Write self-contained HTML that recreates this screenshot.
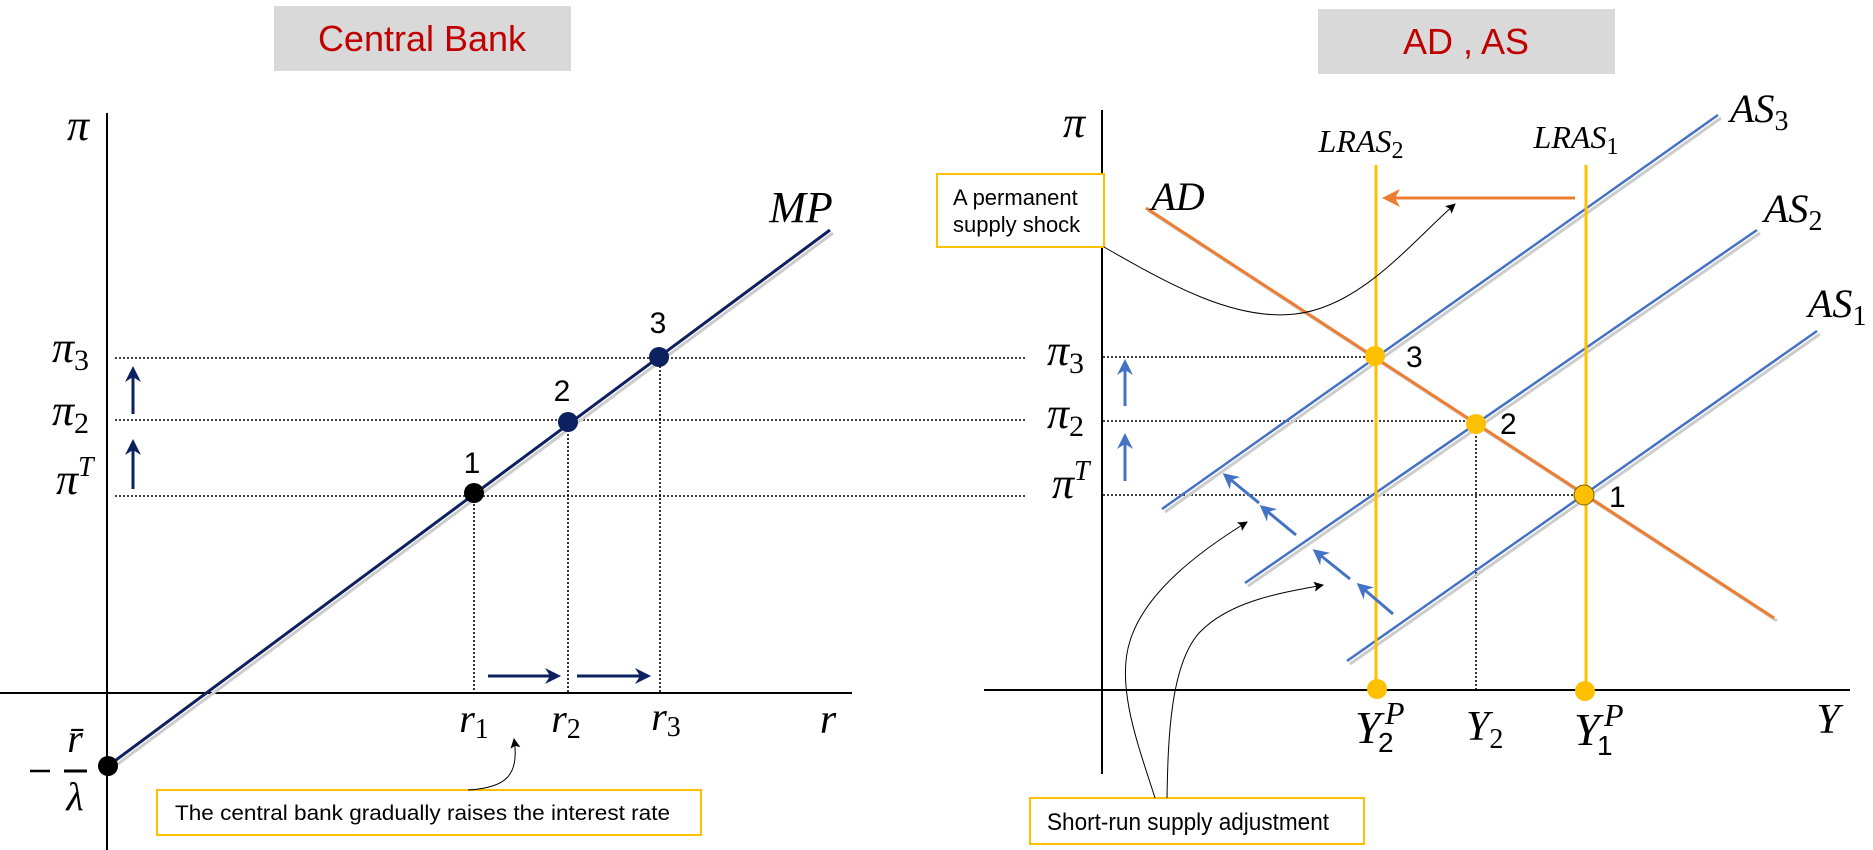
<!DOCTYPE html>
<html><head><meta charset="utf-8"><style>
html,body{margin:0;padding:0;background:#fff;overflow:hidden}
svg{display:block}
.m{font-family:"Liberation Serif",serif;font-style:italic;fill:#000}
.s{font-family:"Liberation Sans",sans-serif;fill:#000}
</style></head><body>
<svg width="1873" height="850" viewBox="0 0 1873 850" xmlns="http://www.w3.org/2000/svg">
<defs>
<marker id="ab" markerWidth="16" markerHeight="16" refX="13" refY="8" orient="auto" markerUnits="userSpaceOnUse"><path d="M0,0 L16,8 L0,16 L5,8 z" fill="#4472c4"/></marker>
<marker id="anv" markerWidth="16" markerHeight="16" refX="13" refY="8" orient="auto" markerUnits="userSpaceOnUse"><path d="M0,0 L16,8 L0,16 L5,8 z" fill="#0d2060"/></marker>
<marker id="ao" markerWidth="18" markerHeight="18" refX="14" refY="9" orient="auto" markerUnits="userSpaceOnUse"><path d="M0,0 L18,9 L0,18 L5,9 z" fill="#ed7d31"/></marker>
<marker id="ak" markerWidth="10" markerHeight="10" refX="9" refY="5" orient="auto" markerUnits="userSpaceOnUse"><path d="M0,0 L10,5 L0,10 L2,5 z" fill="#000"/></marker>
</defs>

<!-- Titles -->
<rect x="274" y="6" width="297" height="65" fill="#d9d9d9"/>
<text x="422" y="51" text-anchor="middle" font-family="Liberation Sans,sans-serif" font-size="36" fill="#c00000">Central Bank</text>
<rect x="1318" y="9" width="297" height="65" fill="#d9d9d9"/>
<text x="1466" y="54" text-anchor="middle" font-family="Liberation Sans,sans-serif" font-size="36" fill="#c00000">AD , AS</text>

<!-- LEFT PANEL -->
<line x1="107" y1="113" x2="107" y2="850" stroke="#000" stroke-width="2"/>
<line x1="0" y1="693" x2="852" y2="693" stroke="#000" stroke-width="2"/>
<g stroke="#000" stroke-width="1.6" stroke-dasharray="2,2" fill="none">
<line x1="115" y1="358" x2="1025" y2="358"/>
<line x1="115" y1="420" x2="1025" y2="420"/>
<line x1="115" y1="496" x2="1025" y2="496"/>
<line x1="474" y1="496" x2="474" y2="693"/>
<line x1="568" y1="422" x2="568" y2="693"/>
<line x1="660" y1="358" x2="660" y2="693"/>
</g>
<line x1="111" y1="769" x2="833" y2="233" stroke="#ccc" stroke-width="3"/>
<line x1="108" y1="766" x2="830" y2="230" stroke="#0d2060" stroke-width="3"/>
<circle cx="108" cy="766" r="10" fill="#000"/>
<circle cx="474" cy="493" r="10" fill="#000"/>
<circle cx="568" cy="422" r="10" fill="#0d2060"/>
<circle cx="659" cy="357" r="10" fill="#0d2060"/>
<text x="472" y="473" class="s" font-size="30" text-anchor="middle">1</text>
<text x="562" y="401" class="s" font-size="30" text-anchor="middle">2</text>
<text x="658" y="333" class="s" font-size="30" text-anchor="middle">3</text>
<line x1="133" y1="414" x2="133" y2="369" stroke="#0d2060" stroke-width="3" marker-end="url(#anv)"/>
<line x1="133" y1="489" x2="133" y2="442" stroke="#0d2060" stroke-width="3" marker-end="url(#anv)"/>
<line x1="488" y1="676" x2="558" y2="676" stroke="#0d2060" stroke-width="3" marker-end="url(#anv)"/>
<line x1="577" y1="676" x2="648" y2="676" stroke="#0d2060" stroke-width="3" marker-end="url(#anv)"/>
<text x="78" y="140" class="m" font-size="44" text-anchor="middle">π</text>
<text x="52" y="362" class="m" font-size="44">π<tspan font-style="normal" font-size="30" dy="8">3</tspan></text>
<text x="52" y="425" class="m" font-size="44">π<tspan font-style="normal" font-size="30" dy="8">2</tspan></text>
<text x="56" y="494" class="m" font-size="44">π<tspan font-size="28" dy="-18">T</tspan></text>
<text x="75" y="752" class="m" font-size="40" text-anchor="middle">r̄</text>
<line x1="30" y1="771" x2="50" y2="771" stroke="#000" stroke-width="2.5"/>
<line x1="64" y1="771" x2="87" y2="771" stroke="#000" stroke-width="3"/>
<text x="75" y="810" class="m" font-size="40" text-anchor="middle">λ</text>
<text x="474" y="732" class="m" font-size="40" text-anchor="middle">r<tspan font-style="normal" font-size="28" dy="6">1</tspan></text>
<text x="566" y="732" class="m" font-size="40" text-anchor="middle">r<tspan font-style="normal" font-size="28" dy="6">2</tspan></text>
<text x="666" y="730" class="m" font-size="40" text-anchor="middle">r<tspan font-style="normal" font-size="28" dy="6">3</tspan></text>
<text x="828" y="733" class="m" font-size="42" text-anchor="middle">r</text>
<text x="801" y="222" class="m" font-size="44" text-anchor="middle">MP</text>
<rect x="157" y="790" width="544" height="45" fill="#fff" stroke="#ffc000" stroke-width="2"/>
<text x="175" y="820" class="s" font-size="21" textLength="495" lengthAdjust="spacingAndGlyphs">The central bank gradually raises the interest rate</text>
<path d="M468,790 C505,788 520,776 514,739" fill="none" stroke="#000" stroke-width="1" marker-end="url(#ak)"/>

<!-- RIGHT PANEL -->
<line x1="1102" y1="110" x2="1102" y2="774" stroke="#000" stroke-width="2"/>
<line x1="984" y1="690" x2="1850" y2="690" stroke="#000" stroke-width="2"/>
<g stroke="#000" stroke-width="1.6" stroke-dasharray="2,2" fill="none">
<line x1="1103" y1="357" x2="1375" y2="357"/>
<line x1="1103" y1="421" x2="1476" y2="421"/>
<line x1="1103" y1="495" x2="1584" y2="495"/>
<line x1="1476" y1="424" x2="1476" y2="690"/>
</g>
<g stroke="#ccc" stroke-width="3">
<line x1="1165" y1="512" x2="1721" y2="118"/>
<line x1="1248" y1="586" x2="1760" y2="233"/>
<line x1="1350" y1="664" x2="1820" y2="334"/>
<line x1="1149" y1="211" x2="1777" y2="621"/>
</g>
<g stroke="#4472c4" stroke-width="2.5">
<line x1="1162" y1="509" x2="1718" y2="115"/>
<line x1="1245" y1="583" x2="1757" y2="230"/>
<line x1="1347" y1="661" x2="1817" y2="331"/>
</g>
<line x1="1146" y1="208" x2="1774" y2="618" stroke="#ed7d31" stroke-width="3"/>
<line x1="1376" y1="165" x2="1376" y2="688" stroke="#ffc000" stroke-width="3"/>
<line x1="1586" y1="165" x2="1586" y2="688" stroke="#ffc000" stroke-width="3"/>
<line x1="1575" y1="198" x2="1386" y2="198" stroke="#ed7d31" stroke-width="3" marker-end="url(#ao)"/>
<g fill="#ffc000">
<circle cx="1375" cy="356" r="10"/>
<circle cx="1476" cy="424" r="10"/>
<circle cx="1584" cy="495" r="10" stroke="#7a6000" stroke-width="1"/>
<circle cx="1377" cy="689" r="10"/>
<circle cx="1585" cy="691" r="10"/>
</g>
<text x="1406" y="367" class="s" font-size="30">3</text>
<text x="1500" y="434" class="s" font-size="30">2</text>
<text x="1609" y="507" class="s" font-size="30">1</text>
<g stroke="#4472c4" stroke-width="3">
<line x1="1125" y1="406" x2="1125" y2="362" marker-end="url(#ab)"/>
<line x1="1125" y1="481" x2="1125" y2="436" marker-end="url(#ab)"/>
<line x1="1259" y1="503" x2="1225" y2="475" marker-end="url(#ab)"/>
<line x1="1296" y1="535" x2="1262" y2="507" marker-end="url(#ab)"/>
<line x1="1350" y1="579" x2="1315" y2="551" marker-end="url(#ab)"/>
<line x1="1393" y1="614" x2="1359" y2="585" marker-end="url(#ab)"/>
</g>
<text x="1074" y="137" class="m" font-size="44" text-anchor="middle">π</text>
<text x="1047" y="365" class="m" font-size="44">π<tspan font-style="normal" font-size="30" dy="8">3</tspan></text>
<text x="1047" y="428" class="m" font-size="44">π<tspan font-style="normal" font-size="30" dy="8">2</tspan></text>
<text x="1052" y="498" class="m" font-size="44">π<tspan font-size="28" dy="-18">T</tspan></text>
<text x="1361" y="152" class="m" font-size="32" text-anchor="middle">LRAS<tspan font-style="normal" font-size="24" dy="6">2</tspan></text>
<text x="1576" y="148" class="m" font-size="32" text-anchor="middle">LRAS<tspan font-style="normal" font-size="24" dy="6">1</tspan></text>
<text x="1730" y="122" class="m" font-size="40">AS<tspan font-style="normal" font-size="28" dy="8">3</tspan></text>
<text x="1764" y="222" class="m" font-size="40">AS<tspan font-style="normal" font-size="28" dy="8">2</tspan></text>
<text x="1808" y="317" class="m" font-size="40">AS<tspan font-style="normal" font-size="28" dy="8">1</tspan></text>
<text x="1178" y="210" class="m" font-size="40" text-anchor="middle">AD</text>
<text x="1355" y="743" class="m" font-size="46">Y</text>
<text x="1378" y="752" class="s" font-size="28">2</text>
<text x="1385" y="724" class="m" font-size="32">P</text>
<text x="1466" y="740" class="m" font-size="42">Y<tspan font-style="normal" font-size="28" dy="8">2</tspan></text>
<text x="1574" y="745" class="m" font-size="46">Y</text>
<text x="1597" y="755" class="s" font-size="28">1</text>
<text x="1604" y="726" class="m" font-size="32">P</text>
<text x="1828" y="733" class="m" font-size="42" text-anchor="middle">Y</text>
<rect x="937" y="174" width="167" height="73" fill="#fff" stroke="#ffc000" stroke-width="2"/>
<text x="953" y="205" class="s" font-size="22">A permanent</text>
<text x="953" y="232" class="s" font-size="22">supply shock</text>
<path d="M1104,247 C1170,285 1235,321 1295,314 C1360,307 1410,244 1455,204" fill="none" stroke="#000" stroke-width="1" marker-end="url(#ak)"/>
<rect x="1030" y="798" width="334" height="46" fill="#fff" stroke="#ffc000" stroke-width="2"/>
<text x="1047" y="830" class="s" font-size="24" textLength="282" lengthAdjust="spacingAndGlyphs">Short-run supply adjustment</text>
<path d="M1155,798 C1140,750 1115,687 1130,641 C1145,592 1200,551 1247,522" fill="none" stroke="#000" stroke-width="1" marker-end="url(#ak)"/>
<path d="M1167,798 C1168,741 1170,664 1200,632 C1230,601 1280,593 1323,585" fill="none" stroke="#000" stroke-width="1" marker-end="url(#ak)"/>
</svg>
</body></html>
